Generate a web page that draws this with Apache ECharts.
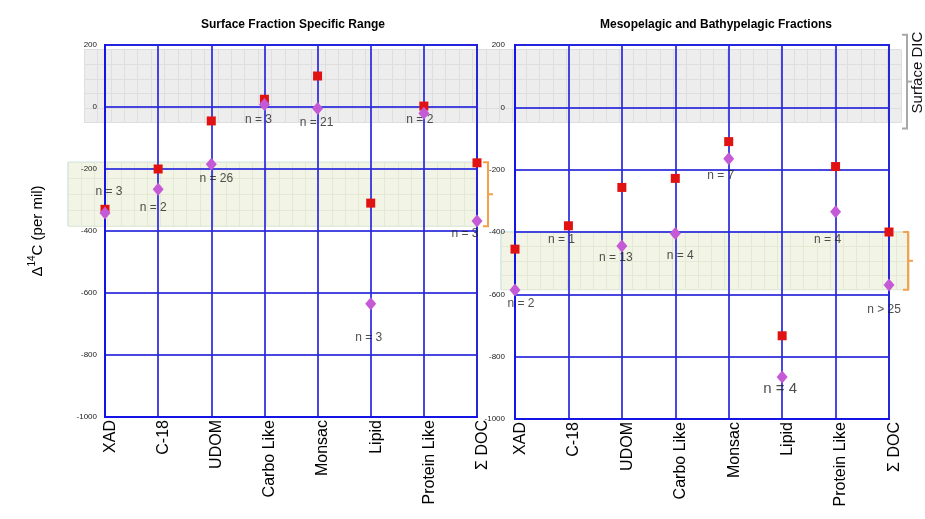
<!DOCTYPE html>
<html>
<head>
<meta charset="utf-8">
<script src="https://cdn.jsdelivr.net/npm/echarts@6/dist/echarts.min.js"></script>
<style>
  html, body { margin: 0; padding: 0; background: #fff; }
  #chart { width: 925px; height: 519px; }
</style>
</head>
<body>
<div id="chart"></div>
<script>
// Fractions along the x axis (same for both panels)
const categories = ['XAD', 'C-18', 'UDOM', 'Carbo Like', 'Monsac', 'Lipid', 'Protein Like', 'Σ DOC'];

const surfaceTitle = 'Surface Fraction Specific Range';
const deepTitle = 'Mesopelagic and Bathypelagic Fractions';

// Δ14C (per mil), surface samples
const surfaceSquares  = [-330, -200, -45, 25, 100, -310, 3, -180];
const surfaceDiamonds = [-342, -265, -185, 8, -5, -635, -20, -368];

// Δ14C (per mil), meso- and bathypelagic samples
const deepSquares  = [-455, -380, -257, -228, -110, -733, -190, -400];
const deepDiamonds = [-586, null, -445, -405, -165, -865, -335, -570];

// sample counts and the Δ14C level each count is written at
const surfaceCounts  = ['n = 3', 'n = 2', 'n = 26', 'n = 3', 'n = 21', 'n = 3', 'n = 2', 'n = 3'];
const surfaceCountAt = [-274, -326, -232, -42, -52, -745, -42, -410];
const deepCounts  = ['n = 2', 'n = 1', 'n = 13', 'n = 4', 'n = 7', 'n = 4', 'n = 4', 'n > 25'];
const deepCountAt = [-631, -426, -483, -477, -220, -904, -426, -650];

// reference ranges (per mil)
const surfaceDicBand = [-50, 185];
const surfaceDocBand = [-385, -178];
const deepDocBand    = [-585, -400];

// y axis ticks
const yMin = -1000, yMax = 200, yStep = 200;

// ---- styling ----
const FONT = 'Liberation Sans, Arial, Helvetica, sans-serif';
const BLUE = '#1414e6';
const GRID_BLUE = 'rgba(40,40,220,0.85)';
const RED = '#e01212';
const PURPLE = '#c55ad6';
const surfaceDx = [4, -5, 5, -6, -1, -2, -4, -12];
const deepDx    = [6, -7, -6, 5, -8, -2, -8, -5];

const chart = echarts.init(document.getElementById('chart'), null, { renderer: 'canvas' });

function catAxis(gridIndex) {
  return {
    gridIndex, type: 'category', data: categories, boundaryGap: false,
    axisLine: { show: true, onZero: false, lineStyle: { color: BLUE, width: 2 } },
    axisTick: { show: false },
    axisLabel: { rotate: 90, margin: 3, fontSize: 16, color: '#000', fontFamily: FONT, interval: 0,
                 verticalAlign: 'top', lineHeight: 11 },
    splitLine: { show: true, lineStyle: { color: GRID_BLUE, width: 2 } }
  };
}

function valAxis(gridIndex, margin, withName) {
  const ax = {
    gridIndex, type: 'value', min: yMin, max: yMax, interval: yStep,
    axisLine: { show: true, lineStyle: { color: BLUE, width: 2 } },
    axisTick: { show: false },
    axisLabel: { margin, fontSize: 8, color: '#222', fontFamily: FONT, formatter: v => String(v) },
    splitLine: { show: true, lineStyle: { color: GRID_BLUE, width: 2 } }
  };
  if (withName) {
    ax.name = '{a|Δ}{s|14}{a|C (per mil)}';
    ax.nameLocation = 'middle';
    ax.nameGap = 60;
    ax.nameRotate = 90;
    ax.nameTextStyle = {
      rich: {
        a: { fontSize: 15, fontFamily: FONT, color: '#000', lineHeight: 18, verticalAlign: 'bottom' },
        s: { fontSize: 10, fontFamily: FONT, color: '#000', lineHeight: 18, verticalAlign: 'top' }
      }
    };
  }
  return ax;
}

function pointSeries(idx, values, symbol, size, color) {
  return {
    type: 'scatter', xAxisIndex: idx, yAxisIndex: idx, symbol, symbolSize: size, clip: false,
    itemStyle: { color, opacity: 1 }, silent: true, z: 5,
    data: values.map((v, i) => (v == null ? null : [i, v])).filter(d => d)
  };
}

function countSeries(idx, texts, at, dx, sizes) {
  return {
    type: 'scatter', xAxisIndex: idx, yAxisIndex: idx, symbolSize: 0, clip: false, silent: true, z: 4,
    itemStyle: { color: 'transparent' },
    label: { show: true, position: 'inside', formatter: p => p.name, color: '#222', fontSize: 12, fontFamily: FONT },
    data: texts.map((t, i) => ({
      name: t, value: [i, at[i]],
      label: { offset: [dx[i], 0], fontSize: sizes ? sizes[i] : 12 }
    }))
  };
}

const mainGrids = [
  { left: 105, right: 448, top: 45, bottom: 102, show: true, borderColor: BLUE, borderWidth: 2, backgroundColor: 'transparent' },
  { left: 515, right: 36, top: 45, bottom: 100, show: true, borderColor: BLUE, borderWidth: 2, backgroundColor: 'transparent' }
];

const option = {
  animation: false,
  backgroundColor: '#fff',
  title: [
    { text: surfaceTitle, left: 288, top: 14, textAlign: 'center',
      textStyle: { fontSize: 12, fontWeight: 'bold', fontFamily: FONT, color: '#000' } },
    { text: deepTitle, left: 711, top: 14, textAlign: 'center',
      textStyle: { fontSize: 12, fontWeight: 'bold', fontFamily: FONT, color: '#000' } }
  ],
  grid: mainGrids,
  xAxis: [catAxis(0), catAxis(1)],
  yAxis: [valAxis(0, 8, true), valAxis(1, 10, false)],
  series: [
    pointSeries(0, surfaceSquares, 'rect', 9, RED),
    pointSeries(0, surfaceDiamonds, 'diamond', [11, 13], PURPLE),
    pointSeries(1, deepSquares, 'rect', 9, RED),
    pointSeries(1, deepDiamonds, 'diamond', [11, 13], PURPLE),
    countSeries(0, surfaceCounts, surfaceCountAt, surfaceDx),
    countSeries(1, deepCounts, deepCountAt, deepDx, [12, 12, 12, 12, 12, 15, 12, 12])
  ]
};
chart.setOption(option);

// ---- shaded reference ranges, placed through the panels' own y scales ----
const py = (axis, v) => chart.convertToPixel({ yAxisIndex: axis }, v);

function bandGrid(left, right, axis, range, fill, border) {
  const top = py(axis, range[1]);
  const bottom = py(axis, range[0]);
  return {
    grid: { left, width: right - left, top, height: bottom - top, show: true, z: -2,
            backgroundColor: fill, borderColor: border, borderWidth: border === 'transparent' ? 0 : 1 },
    top, bottom
  };
}

const bands = [
  Object.assign(bandGrid(84, 901, 0, surfaceDicBand, '#ededed', 'transparent'), { line: '#dedede' }),
  Object.assign(bandGrid(68, 477, 0, surfaceDocBand, '#f2f5e6', '#a9dbe6'), { line: '#e3e9d4' }),
  Object.assign(bandGrid(501, 909, 1, deepDocBand, '#f2f5e6', '#a9dbe6'), { line: '#e3e9d4' })
];

const extraGrids = [], extraX = [], extraY = [];
bands.forEach((b, k) => {
  const gi = 2 + k;
  extraGrids.push(b.grid);
  const nx = Math.round(b.grid.width / 13.3);
  const ny = Math.max(2, Math.round(b.grid.height / 14.5));
  const hidden = {
    axisLine: { show: false }, axisTick: { show: false }, axisLabel: { show: false },
    splitLine: { show: true, lineStyle: { color: b.line, width: 1 } }, z: -1
  };
  extraX.push(Object.assign({ gridIndex: gi, type: 'value', min: 0, max: nx, interval: 1 }, hidden));
  extraY.push(Object.assign({ gridIndex: gi, type: 'value', min: 0, max: ny, interval: 1 }, hidden));
});

// brackets beside the ranges
function bracket(x, top, bottom, armIn, armOut, color) {
  const mid = (top + bottom) / 2;
  return [
    { type: 'polyline', z: 50, silent: true,
      shape: { points: [[x - armIn, top], [x, top], [x, bottom], [x - armIn, bottom]] },
      style: { stroke: color, lineWidth: 2, fill: null } },
    { type: 'line', z: 50, silent: true,
      shape: { x1: x, y1: mid, x2: x + armOut, y2: mid },
      style: { stroke: color, lineWidth: 2 } }
  ];
}

const gray = bands[0], lg = bands[1], rg = bands[2];
const graphics = [].concat(
  bracket(907, gray.top - 15, gray.bottom + 6, 5, 5, '#a8a8a8'),
  bracket(488, lg.top, lg.bottom, 5, 5, '#f5a04a'),
  bracket(908, rg.top, rg.bottom, 5, 5, '#f5a04a'),
  [{
    type: 'text', z: 50, silent: true, x: 918, y: (gray.top - 15 + gray.bottom + 6) / 2 - 9,
    rotation: Math.PI / 2,
    style: { text: 'Surface DIC', fontSize: 15, fontFamily: FONT, fill: '#111', align: 'center', verticalAlign: 'middle' }
  }]
);

chart.setOption({
  grid: mainGrids.concat(extraGrids),
  xAxis: [catAxis(0), catAxis(1)].concat(extraX),
  yAxis: [valAxis(0, 8, true), valAxis(1, 10, false)].concat(extraY),
  graphic: graphics
});
</script>
</body>
</html>
